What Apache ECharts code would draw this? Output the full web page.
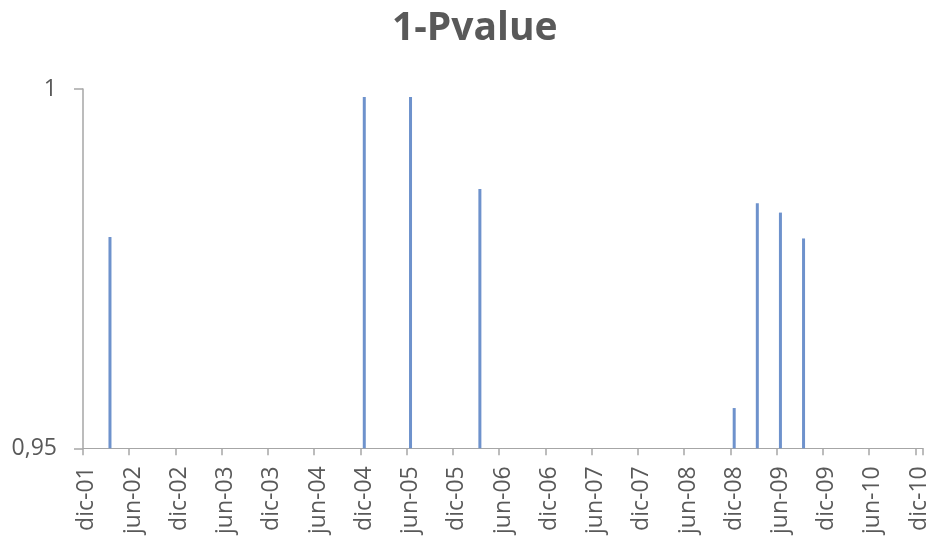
<!DOCTYPE html>
<html>
<head>
<meta charset="utf-8">
<script src="https://cdn.jsdelivr.net/npm/echarts@6/dist/echarts.min.js"></script>
<style>
  html, body { margin: 0; padding: 0; background: #ffffff; }
  #chart { width: 933px; height: 537px; }
</style>
</head>
<body>
<div id="chart"></div>
<script>
// Spanish month abbreviations used for the time axis labels
const monthNames = ['ene', 'feb', 'mar', 'abr', 'may', 'jun', 'jul', 'ago', 'sep', 'oct', 'nov', 'dic'];

// Monthly axis: Dec 2001 through Dec 2010
const startYear = 2001;
const startMonth = 11; // December (0-based)
const monthCount = 109;

// Quarterly observations of 1 - p-value, starting Dec-01 (null: below the 0,95 floor)
const quarterLabels = [
  'dic-01', 'mar-02', 'jun-02', 'sep-02', 'dic-02', 'mar-03', 'jun-03', 'sep-03',
  'dic-03', 'mar-04', 'jun-04', 'sep-04', 'dic-04', 'mar-05', 'jun-05', 'sep-05',
  'dic-05', 'mar-06', 'jun-06', 'sep-06', 'dic-06', 'mar-07', 'jun-07', 'sep-07',
  'dic-07', 'mar-08', 'jun-08', 'sep-08', 'dic-08', 'mar-09', 'jun-09', 'sep-09',
  'dic-09', 'mar-10', 'jun-10', 'sep-10', 'dic-10'
];
const pValues = [
  null, 0.9794, null, null, null, null, null, null,
  null, null, null, null, 0.9989, null, 0.9989, null,
  null, 0.9861, null, null, null, null, null, null,
  null, null, null, null, 0.9556, 0.9841, 0.9828, 0.9792,
  null, null, null, null, null
];

// y-axis range and tick step
const yMin = 0.95;
const yMax = 1;
const yStep = 0.05;

// Build the monthly category list and place each quarterly value on its month
const categories = [];
for (let i = 0; i < monthCount; i++) {
  const m = (startMonth + i) % 12;
  const y = startYear + Math.floor((startMonth + i) / 12);
  categories.push(monthNames[m] + '-' + String(y % 100).padStart(2, '0'));
}
const seriesData = categories.map(function (c) {
  const q = quarterLabels.indexOf(c);
  return q >= 0 ? pValues[q] : null;
});

const labelColor = '#595959';
const axisColor = '#a6a6a6';
const fontFamily = '"Open Sans", "Liberation Sans", sans-serif';

const chart = echarts.init(document.getElementById('chart'), null, { renderer: 'canvas' });
chart.setOption({
  animation: false,
  backgroundColor: '#ffffff',
  title: {
    text: '1-Pvalue',
    left: 387,
    top: 4,
    textStyle: {
      fontFamily: fontFamily,
      fontSize: 39,
      fontWeight: 'bold',
      color: labelColor
    }
  },
  grid: { left: 83, right: 10, top: 89, bottom: 88 },
  xAxis: {
    type: 'category',
    data: categories,
    boundaryGap: true,
    axisLine: { show: true, lineStyle: { color: axisColor, width: 1 } },
    axisTick: {
      show: true,
      interval: 5,
      length: 7,
      alignWithLabel: false,
      lineStyle: { color: axisColor, width: 1.5 }
    },
    axisLabel: {
      interval: 5,
      rotate: 90,
      margin: 18,
      fontFamily: fontFamily,
      fontSize: 23,
      color: labelColor
    },
    splitLine: { show: false }
  },
  yAxis: {
    type: 'value',
    min: yMin,
    max: yMax,
    interval: yStep,
    axisLine: { show: true, lineStyle: { color: axisColor, width: 1.5 } },
    axisTick: { show: true, length: 9, lineStyle: { color: axisColor, width: 1.5 } },
    axisLabel: {
      margin: 26,
      fontFamily: fontFamily,
      fontSize: 23,
      color: labelColor,
      formatter: function (v) {
        return String(Number(v.toFixed(2))).replace('.', ',');
      }
    },
    splitLine: { show: false }
  },
  series: [{
    type: 'bar',
    data: seriesData,
    barWidth: 3,
    itemStyle: { color: '#6e92cc' }
  }]
});
</script>
</body>
</html>
